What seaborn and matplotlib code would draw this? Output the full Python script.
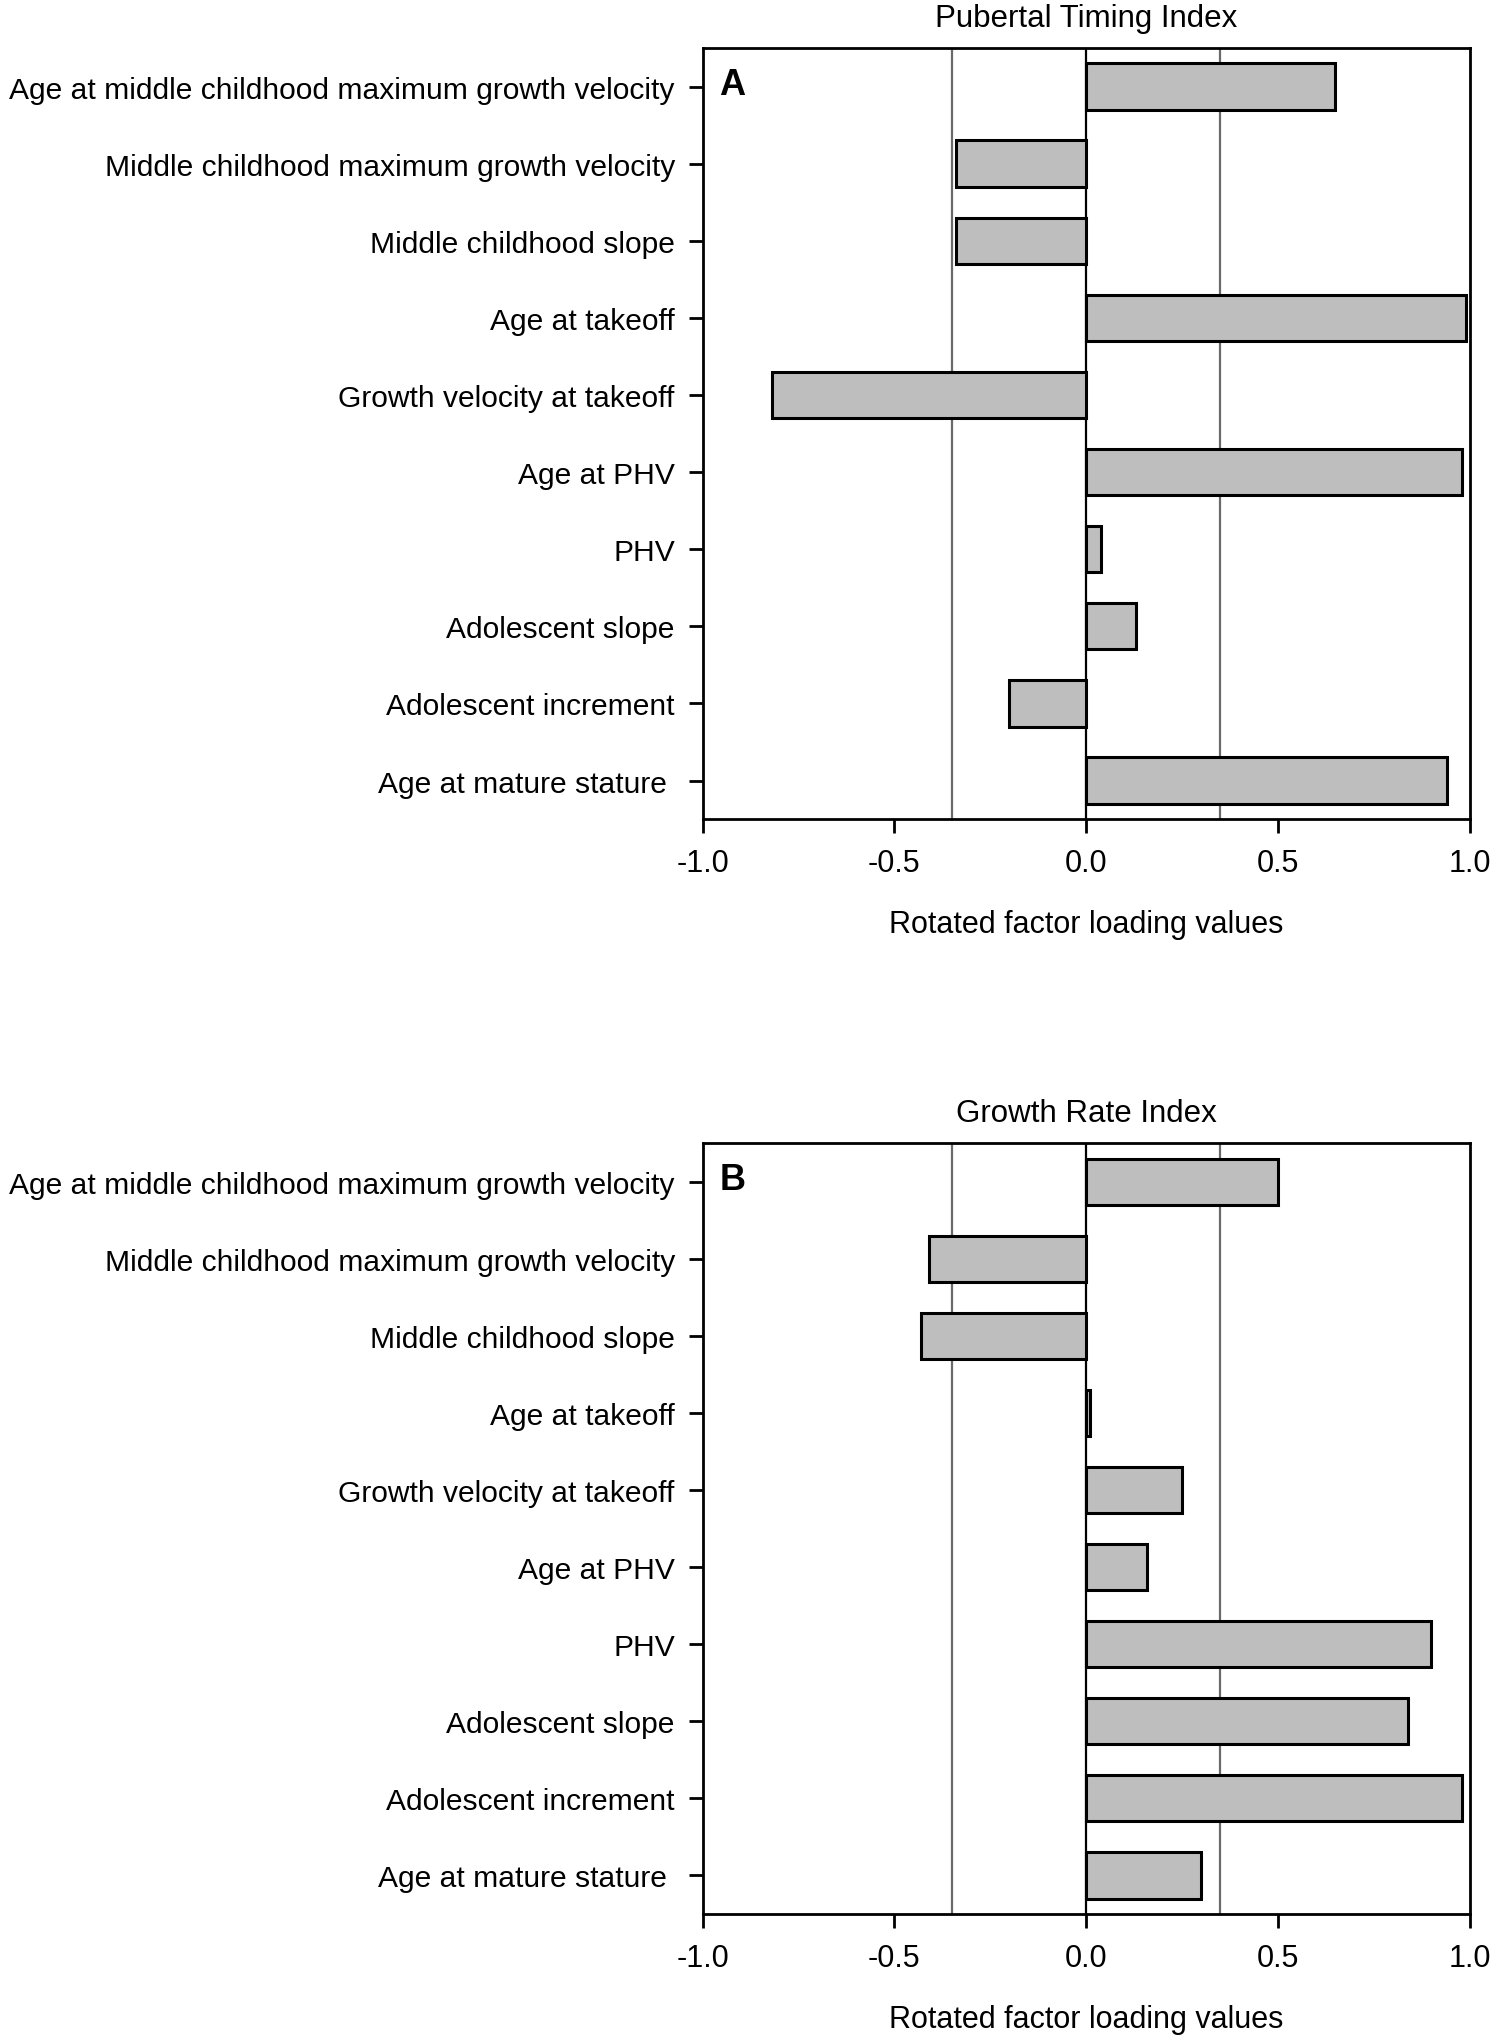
import matplotlib
matplotlib.use("Agg")
import matplotlib.pyplot as plt
import seaborn as sns
import pandas as pd

sns.set_style("white")
plt.rcParams['font.family'] = ['Liberation Sans', 'DejaVu Sans']
plt.rcParams['text.color'] = 'black'
plt.rcParams['axes.labelcolor'] = 'black'
plt.rcParams['xtick.color'] = 'black'
plt.rcParams['ytick.color'] = 'black'

categories = [
    "Age at middle childhood maximum growth velocity",
    "Middle childhood maximum growth velocity",
    "Middle childhood slope",
    "Age at takeoff",
    "Growth velocity at takeoff",
    "Age at PHV",
    "PHV",
    "Adolescent slope",
    "Adolescent increment",
    "Age at mature stature ",
]
pubertal_timing = [0.65, -0.34, -0.34, 0.99, -0.82, 0.98, 0.04, 0.13, -0.20, 0.94]
growth_rate = [0.50, -0.41, -0.43, 0.01, 0.25, 0.16, 0.90, 0.84, 0.98, 0.30]
titles = ["Pubertal Timing Index", "Growth Rate Index"]
panel_letters = ["A", "B"]
xticks = [-1.0, -0.5, 0.0, 0.5, 1.0]
xtick_labels = ["-1.0", "-0.5", "0.0", "0.5", "1.0"]
ref_lines = [-0.35, 0.35]
xlabel = "Rotated factor loading values"

fig = plt.figure(figsize=(14.95, 20.4), dpi=100)
ax_pos = [[0.470, 0.598, 0.513, 0.378], [0.470, 0.0613, 0.513, 0.3777]]

for vals, title, letter, pos in zip([pubertal_timing, growth_rate], titles, panel_letters, ax_pos):
    ax = fig.add_axes(pos)
    df = pd.DataFrame({"category": categories, "value": vals})
    for r in ref_lines:
        ax.axvline(r, color="#6a6a6a", lw=1.6, zorder=0)
    ax.axvline(0, color="black", lw=1.6, zorder=0)
    sns.barplot(data=df, x="value", y="category", orient="h", ax=ax,
                color="#bebebe", saturation=1, edgecolor="black",
                linewidth=2.2, width=0.6, zorder=2)
    ax.set_xlim(-1.0, 1.0)
    ax.set_ylim(9.5, -0.5)
    ax.set_xticks(xticks)
    ax.set_xticklabels(xtick_labels)
    ax.set_xlabel(xlabel, fontsize=22, labelpad=22)
    ax.set_ylabel("")
    ax.set_title(title, fontsize=22.5, pad=16, color="black")
    ax.tick_params(axis="both", which="both", direction="out", length=10, width=2,
                   labelsize=22, color="black", labelcolor="black",
                   left=True, bottom=True, pad=11)
    ax.tick_params(axis="y", labelsize=21.6, pad=10)
    for s in ax.spines.values():
        s.set_visible(True)
        s.set_color("black")
        s.set_linewidth(2)
    ax.text(0.022, 0.953, letter, transform=ax.transAxes, fontsize=26,
            fontweight="bold", va="center", ha="left", color="black")

fig.savefig("out.png", dpi=100)
